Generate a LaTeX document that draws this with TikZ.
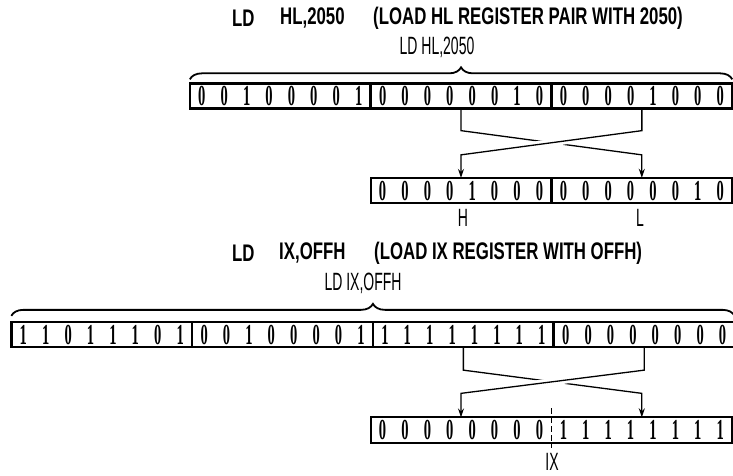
\documentclass[tikz,border=0pt]{standalone}
\usepackage{fontspec}
\usetikzlibrary{positioning,arrows.meta,decorations.pathreplacing,calc}
\newfontfamily\capsfont[FakeStretch=0.7]{Liberation Sans}
\newfontfamily\labfont[FakeStretch=0.56]{Liberation Sans}
\newfontfamily\bitfont[FakeStretch=0.5]{Liberation Serif}
\newcommand{\bitrow}[1]{\bitrowA#1\relax}
\def\bitrowA#1{\ifx#1\relax\else\makebox[22.4pt]{#1}\expandafter\bitrowA\fi}
\tikzset{
  byte/.style={draw, line width=1.3pt, minimum width=179.5pt, minimum height=24pt, inner sep=0pt, font=\bitfont\bfseries\fontsize{29}{29}\selectfont},
  halfreg/.style={byte, draw=none},
  regbox/.style={line width=2.2pt},
  title/.style={font=\capsfont\bfseries\fontsize{24}{26}\selectfont, anchor=west, inner sep=0pt},
  lab/.style={font=\labfont\fontsize{25}{27}\selectfont, inner sep=0pt},
  swaparr/.style={line width=1.3pt, -{Stealth[length=9pt,width=6pt]}},
  halo/.style={white, line width=7pt, shorten <=60pt, shorten >=60pt},
  brc/.style={decorate, decoration={brace, amplitude=12pt}, line width=1.8pt},
}
\begin{document}
\begin{tikzpicture}[x=1pt,y=-1pt]
\useasboundingbox (0,0) rectangle (733,476);
% LD HL,2050
\node[title] (t1a) at (232,18) {LD};
\node[title] (t1b) at (280,18) {HL,2050};
\node[title] (t1c) at (373,18) {(LOAD HL REGISTER PAIR WITH 2050)};
\node[lab] (hlname) at (437,47) {LD HL,2050};
\node[byte] (op1) at (280.25,96) {\bitrow{00100001}};
\node[byte, right=0pt of op1] (nl) {\bitrow{00000010}};
\node[byte, right=0pt of nl] (nh) {\bitrow{00001000}};
\draw[regbox] (op1.north west) rectangle (nh.south east);
\draw[brc] ([yshift=4pt]op1.north west) -- ([yshift=4pt]nh.north east);
\node[byte] (regH) at (461,190.5) {\bitrow{00001000}};
\node[byte, right=0pt of regH] (regL) {\bitrow{00000010}};
\draw[regbox] (regH.north west) rectangle (regL.south east);
\node[lab] (labH) at (463,218) {H};
\node[lab] (labL) at (640,218) {L};
\draw[swaparr] (nl.south) -- ++(0,22) -- ($(regL.north)+(0,-23)$) -- (regL.north);
\draw[halo] ($(nh.south)+(0,22)$) -- ($(regH.north)+(0,-23)$);
\draw[swaparr] (nh.south) -- ++(0,22) -- ($(regH.north)+(0,-23)$) -- (regH.north);
% LD IX,OFFH
\node[title] (t2a) at (232,253) {LD};
\node[title] (t2b) at (279,253) {IX,OFFH};
\node[title] (t2c) at (374,253) {(LOAD IX REGISTER WITH OFFH)};
\node[lab] (ixname) at (363,283) {LD IX,OFFH};
\node[byte] (op2a) at (101.75,334.5) {\bitrow{11011101}};
\node[byte, right=0pt of op2a] (op2b) {\bitrow{00100001}};
\node[byte, right=0pt of op2b] (ffb) {\bitrow{11111111}};
\node[byte, right=0pt of ffb] (zb) {\bitrow{00000000}};
\draw[regbox] (op2a.north west) rectangle (zb.south east);
\draw[brc] ([yshift=6pt]op2a.north west) -- ([yshift=6pt]zb.north east);
\node[halfreg] (ixH) at (461,430) {\bitrow{00000000}};
\node[halfreg, right=0pt of ixH] (ixL) {\bitrow{11111111}};
\draw[regbox] (ixH.north west) rectangle (ixL.south east);
\draw[line width=1.6pt, dash pattern=on 6pt off 3pt] ([yshift=9pt]ixH.north east) -- ([yshift=-5pt]ixH.south east);
\node[lab] (labIX) at (552,462) {IX};
\draw[swaparr] (ffb.south) -- ++(0,23) -- ($(ixL.north)+(0,-24)$) -- (ixL.north);
\draw[halo] ($(zb.south)+(0,23)$) -- ($(ixH.north)+(0,-24)$);
\draw[swaparr] (zb.south) -- ++(0,23) -- ($(ixH.north)+(0,-24)$) -- (ixH.north);
\end{tikzpicture}
\end{document}
